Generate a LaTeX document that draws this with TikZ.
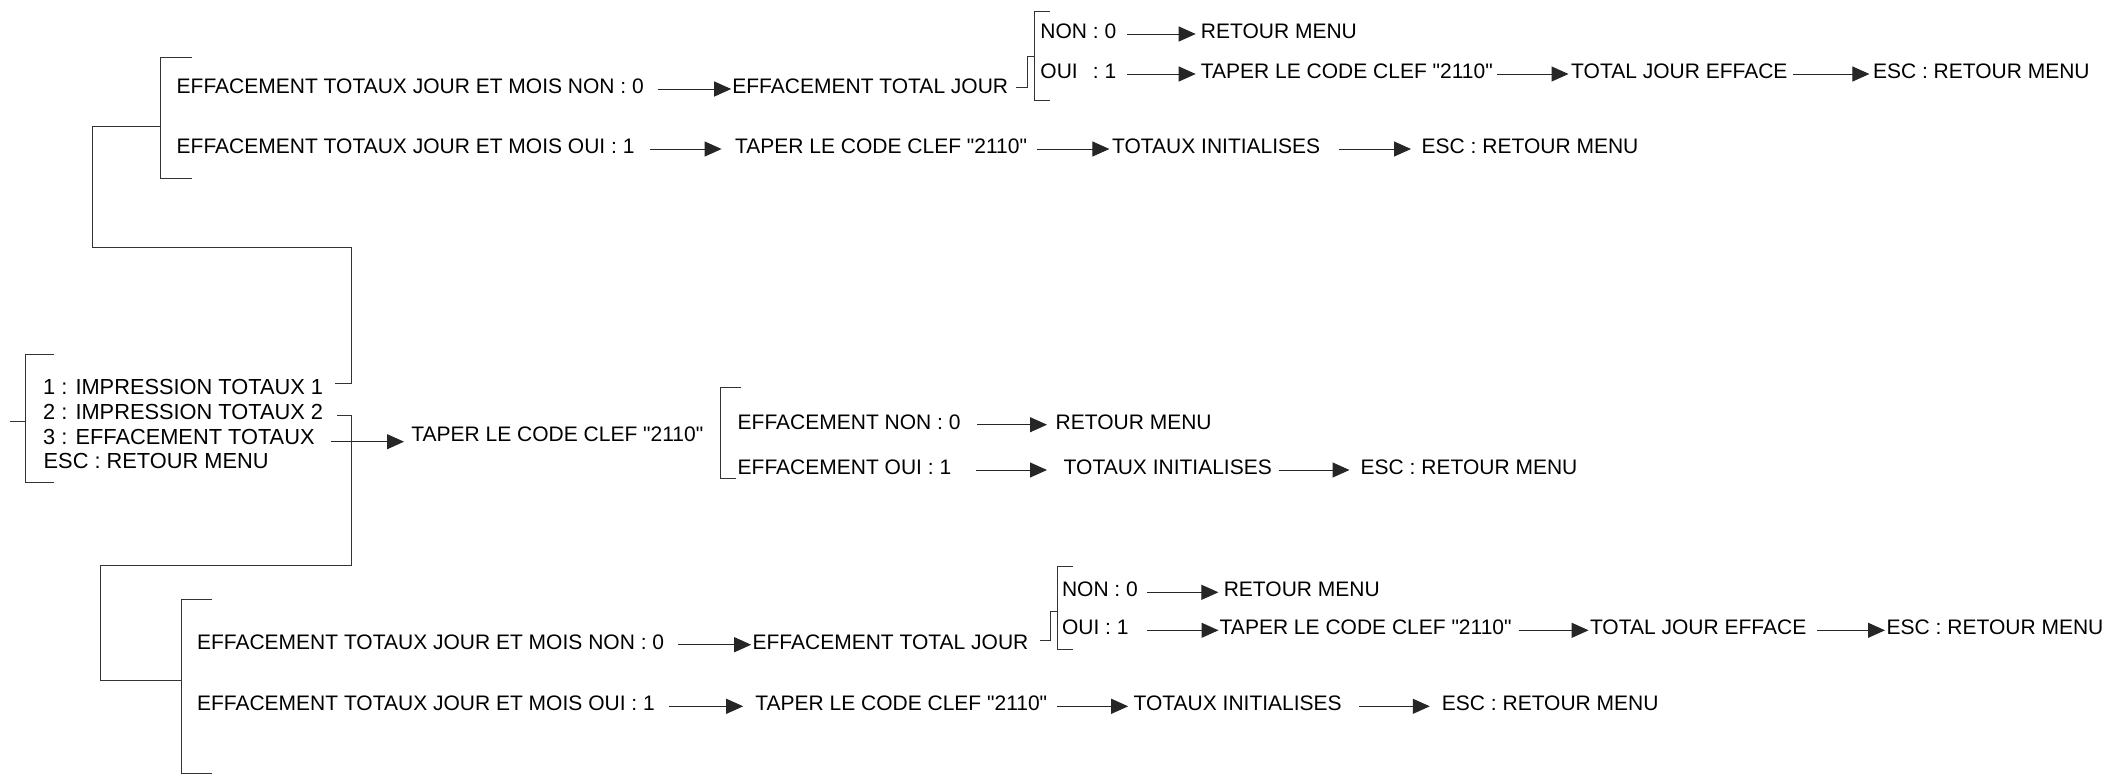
\documentclass[tikz,border=0pt]{standalone}
\usepackage{fontspec}
\setmainfont{Liberation Sans}[Ligatures=TeXOff]
\usetikzlibrary{arrows.meta}
\newcommand\dq{\symbol{34}}
\tikzset{
  txt/.style={anchor=west, inner sep=0pt, text height=15pt, text depth=0pt,
              font=\fontsize{21pt}{25pt}\selectfont},
  mtxt/.style={txt, text height=15.6pt, font=\fontsize{21.8pt}{26pt}\selectfont},
  ln/.style={draw=black!80, line width=1pt},
  arr/.style={draw=black!85, line width=1pt, -{Triangle[length=17pt,width=15pt]}},
}
\newcommand\link[4]{\draw[arr] ([xshift=#3pt,yshift=-3pt]#1.east) -- ([xshift=-#4pt,yshift=-3pt]#2.west);}
\begin{document}
\begin{tikzpicture}[x=1pt,y=-1pt]
\useasboundingbox (0,0) rectangle (2111,774);

% ---------- main menu ----------
\node[mtxt] (m1) at (43,386.7) {1 : IMPRESSION TOTAUX 1};
\node[mtxt] (m2) at (43,411.7) {2 : IMPRESSION TOTAUX 2};
\node[mtxt] (m3) at (43,436.7) {3 : EFFACEMENT TOTAUX};
\node[mtxt] (m4) at (43.5,460.7) {ESC : RETOUR MENU};
\draw[ln] (53.5,354) -- (25,354) -- (25,482.5) -- (53.5,482.5);
\coordinate (mbin) at (25,421.5);
\coordinate (mbfree) at (10,421.5);
\draw[ln] (mbfree) -- (mbin);

% ---------- middle branch ----------
\node[txt] (mt) at (411.2,434.3) {TAPER LE CODE CLEF \dq2110\dq};
\draw[arr] ([xshift=16pt,yshift=-5pt]m3.east) -- ([xshift=-7.2pt,yshift=-7.4pt]mt.west);
\draw[ln] (741,387) -- (720,387) -- (720,478) -- (736,478);
\node[txt] (e1) at (737.5,421.7) {EFFACEMENT NON : 0};
\node[txt] (e1b) at (1055.5,421.7) {RETOUR MENU};
\node[txt] (e2) at (737.5,467) {EFFACEMENT OUI : 1};
\node[txt] (e2b) at (1063.5,467) {TOTAUX INITIALISES};
\node[txt] (e2c) at (1360.5,467) {ESC : RETOUR MENU};
\link{e1}{e1b}{16.5}{8.5}
\link{e2}{e2b}{25}{16.5}
\link{e2b}{e2c}{6.5}{11}

% ---------- top branch ----------
\coordinate (up1) at (351.7,247.3);
\coordinate (up2) at (92.7,247.3);
\coordinate (tbin) at (160,126);
\draw[ln] ([xshift=12pt,yshift=3.4pt]m1.east) -| (up1) -- (up2) |- (tbin);
\draw[ln] (191.7,57.3) -- (160,57.3) -- (160,178.3) -- (191.7,178.3);

\node[txt] (t1) at (176.5,86) {EFFACEMENT TOTAUX JOUR ET MOIS NON : 0};
\node[txt] (t1b) at (732.2,86) {EFFACEMENT TOTAL JOUR};
\link{t1}{t1b}{14}{1}
\coordinate (sbstep) at (1027.3,56);
\coordinate (sbin) at (1034.3,56);
\draw[ln] ([xshift=8pt,yshift=-1pt]t1b.east) -| (sbstep) -- (sbin);
\draw[ln] (1050,11.7) -- (1034.3,11.7) -- (1034.3,100) -- (1050,100);

\node[txt] (s1) at (1040.2,31) {NON : 0};
\node[txt] (s1b) at (1200.7,31) {RETOUR MENU};
\link{s1}{s1b}{10.6}{5}
\node[txt] (s2) at (1040.2,71) {OUI\hspace{9.3pt} : 1};
\node[txt] (s2b) at (1200.7,71) {TAPER LE CODE CLEF \dq2110\dq};
\node[txt] (s2c) at (1571,71) {TOTAL JOUR EFFACE};
\node[txt] (s2d) at (1872.8,71) {ESC : RETOUR MENU};
\link{s2}{s2b}{10.6}{5}
\link{s2b}{s2c}{4}{2.5}
\link{s2c}{s2d}{5}{3.4}

\node[txt] (t2) at (176.5,146) {EFFACEMENT TOTAUX JOUR ET MOIS OUI : 1};
\node[txt] (t2b) at (734.9,146) {TAPER LE CODE CLEF \dq2110\dq};
\node[txt] (t2c) at (1111.9,146) {TOTAUX INITIALISES};
\node[txt] (t2d) at (1421.5,146) {ESC : RETOUR MENU};
\link{t2}{t2b}{15.4}{13.3}
\link{t2b}{t2c}{9.3}{2.5}
\link{t2c}{t2d}{19}{10.5}

% ---------- bottom branch ----------
\coordinate (dn1) at (351,565.7);
\coordinate (dn2) at (100,565.7);
\coordinate (bbin) at (181.7,680);
\draw[ln] ([xshift=14pt,yshift=-3.3pt]m2.east) -| (dn1) -- (dn2) |- (bbin);
\draw[ln] (212.3,599.3) -- (181.7,599.3) -- (181.7,773.3) -- (212.3,773.3);

\node[txt] (b1) at (196.8,641.7) {EFFACEMENT TOTAUX JOUR ET MOIS NON : 0};
\node[txt] (b1b) at (752.4,641.7) {EFFACEMENT TOTAL JOUR};
\link{b1}{b1b}{14}{1.2}
\coordinate (sb2step) at (1050,611.7);
\coordinate (sb2in) at (1057.7,611.7);
\draw[ln] ([xshift=11.4pt,yshift=1pt]b1b.east) -| (sb2step) -- (sb2in);
\draw[ln] (1073.3,566) -- (1057.7,566) -- (1057.7,649.3) -- (1073.3,649.3);

\node[txt] (s3) at (1061.8,589.3) {NON : 0};
\node[txt] (s3b) at (1223.6,589.3) {RETOUR MENU};
\link{s3}{s3b}{9.2}{5.2}
\node[txt] (s4) at (1061.8,627.3) {OUI : 1};
\node[txt] (s4b) at (1219.5,627.3) {TAPER LE CODE CLEF \dq2110\dq};
\node[txt] (s4c) at (1589.8,627.3) {TOTAL JOUR EFFACE};
\node[txt] (s4d) at (1886.5,627.3) {ESC : RETOUR MENU};
\link{s4}{s4b}{18.6}{1}
\link{s4b}{s4c}{6.7}{1.2}
\link{s4c}{s4d}{10.8}{1.5}

\node[txt] (b2) at (196.8,703.3) {EFFACEMENT TOTAUX JOUR ET MOIS OUI : 1};
\node[txt] (b2b) at (755.1,703.3) {TAPER LE CODE CLEF \dq2110\dq};
\node[txt] (b2c) at (1133.4,703.3) {TOTAUX INITIALISES};
\node[txt] (b2d) at (1441.7,703.3) {ESC : RETOUR MENU};
\link{b2}{b2b}{14}{11.9}
\link{b2b}{b2c}{9.3}{5.2}
\link{b2c}{b2d}{17.5}{11.9}
\end{tikzpicture}
\end{document}
